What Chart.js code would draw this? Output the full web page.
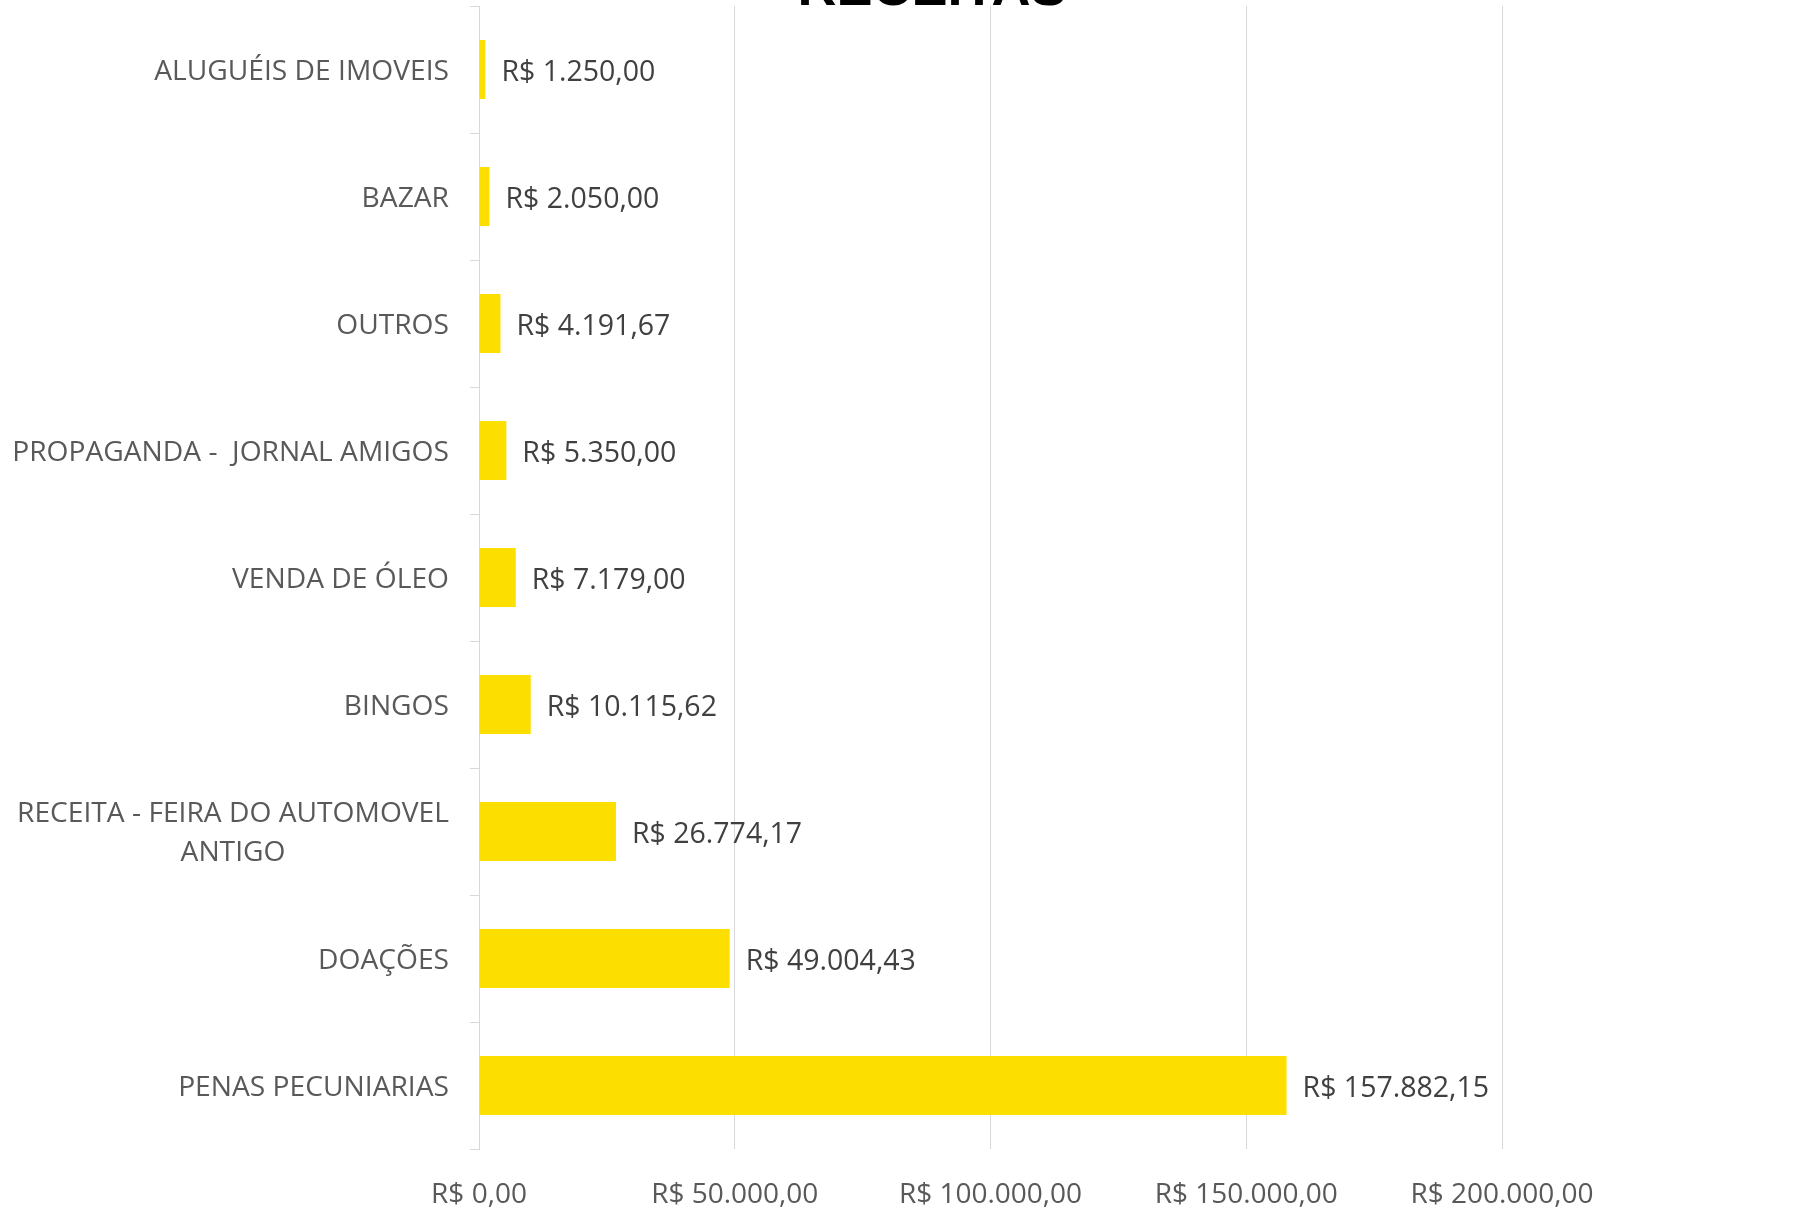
<!DOCTYPE html>
<html>
<head>
<meta charset="utf-8">
<script src="https://cdn.jsdelivr.net/npm/chart.js@4/dist/chart.umd.min.js"></script>
<style>
  html, body { margin: 0; padding: 0; background: #ffffff; }
  #wrap { width: 1805px; height: 1218px; }
</style>
</head>
<body>
<div id="wrap"><canvas id="c" width="1805" height="1218"></canvas></div>
<script>
const title = "RECEITAS";
const categories = [
  "ALUGUÉIS DE IMOVEIS",
  "BAZAR",
  "OUTROS",
  "PROPAGANDA -  JORNAL AMIGOS",
  "VENDA DE ÓLEO",
  "BINGOS",
  ["RECEITA - FEIRA DO AUTOMOVEL", "ANTIGO"],
  "DOAÇÕES",
  "PENAS PECUNIARIAS"
];
const values = [1250.00, 2050.00, 4191.67, 5350.00, 7179.00, 10115.62, 26774.17, 49004.43, 157882.15];
const xMin = 0, xMax = 200000, xStep = 50000;

const FONT = "'Open Sans', 'Liberation Sans', sans-serif";
const FSIZE = 28.5;
const CATSIZE = 28.2;

function brl(v) {
  const parts = v.toFixed(2).split(".");
  const intPart = parts[0].replace(/\B(?=(\d{3})+(?!\d))/g, ".");
  return "R$ " + intPart + "," + parts[1];
}

const titlePlugin = {
  id: "cutTitle",
  afterDraw(chart) {
    const ctx = chart.ctx;
    ctx.save();
    ctx.font = "bold 54px 'Liberation Sans', Arial, sans-serif";
    ctx.fillStyle = "#000000";
    ctx.textAlign = "center";
    ctx.textBaseline = "alphabetic";
    ctx.fillText(title, 932, 5);
    ctx.restore();
  }
};

const catLabelPlugin = {
  id: "catLabels",
  afterDraw(chart) {
    const ctx = chart.ctx;
    const ys = chart.scales.y;
    const rightEdge = ys.right - 30;
    const lh = 39;
    ctx.save();
    ctx.font = CATSIZE + "px " + FONT;
    ctx.fillStyle = "#595959";
    ctx.textBaseline = "middle";
    chart.data.labels.forEach((lab, i) => {
      const lines = Array.isArray(lab) ? lab : [lab];
      const yc = ys.getPixelForValue(i) + 2;
      const widths = lines.map(l => ctx.measureText(l).width);
      const maxW = Math.max(...widths);
      const cx = rightEdge - maxW / 2;
      ctx.textAlign = "center";
      lines.forEach((l, k) => {
        const y = yc + (k - (lines.length - 1) / 2) * lh;
        ctx.fillText(l, cx, y);
      });
    });
    ctx.restore();
  }
};

const valueLabelPlugin = {
  id: "valueLabels",
  afterDatasetsDraw(chart) {
    const ctx = chart.ctx;
    const meta = chart.getDatasetMeta(0);
    ctx.save();
    ctx.font = FSIZE + "px " + FONT;
    ctx.fillStyle = "#404040";
    ctx.textAlign = "left";
    ctx.textBaseline = "middle";
    meta.data.forEach((bar, i) => {
      ctx.fillText(brl(chart.data.datasets[0].data[i]), bar.x + 16, bar.y + 3);
    });
    ctx.restore();
  }
};

new Chart(document.getElementById("c"), {
  type: "bar",
  data: {
    labels: categories,
    datasets: [{
      data: values,
      backgroundColor: "#FCDE00",
      borderWidth: 0,
      categoryPercentage: 1.0,
      barPercentage: 0.465
    }]
  },
  plugins: [titlePlugin, catLabelPlugin, valueLabelPlugin],
  options: {
    indexAxis: "y",
    responsive: false,
    animation: false,
    devicePixelRatio: 1,
    layout: { padding: { left: 0, right: 303, top: 6, bottom: 0 } },
    plugins: { legend: { display: false }, tooltip: { enabled: false }, title: { display: false } },
    scales: {
      x: {
        min: xMin, max: xMax,
        ticks: {
          stepSize: xStep,
          callback: v => brl(v),
          color: "#595959",
          font: { family: FONT, size: 28 },
          padding: 29,
          maxRotation: 0
        },
        grid: { color: "#d9d9d9", lineWidth: 1, drawTicks: false },
        border: { display: false },
        afterFit(scale) { scale.height = 69; }
      },
      y: {
        ticks: { display: false },
        grid: { offset: true, drawOnChartArea: false, drawTicks: true, tickLength: 9, color: "#d9d9d9", lineWidth: 1 },
        border: { display: true, color: "#d9d9d9", width: 1 },
        afterFit(scale) { scale.width = 479; }
      }
    }
  }
});
</script>
</body>
</html>
